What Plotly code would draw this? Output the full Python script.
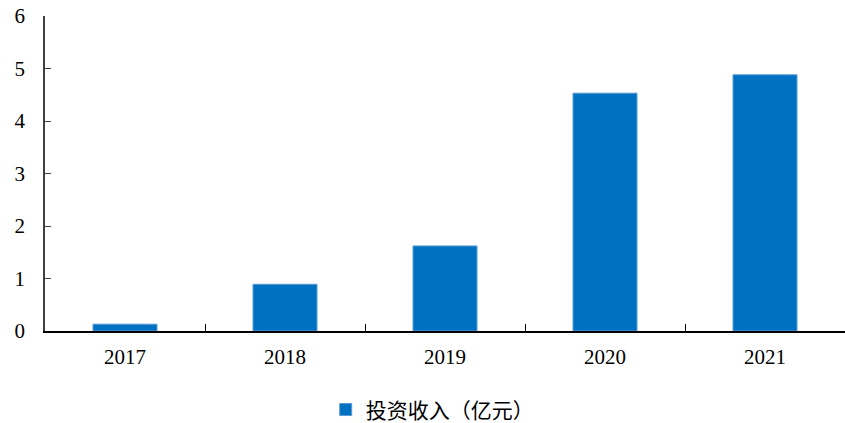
import plotly.graph_objects as go

years = ["2017", "2018", "2019", "2020", "2021"]
income = [0.13, 0.89, 1.62, 4.53, 4.88]
series_name = "投资收入（亿元）"
y_ticks = [0, 1, 2, 3, 4, 5, 6]

fig = go.Figure()
fig.add_trace(go.Bar(
    x=years, y=income, name=series_name,
    marker=dict(color="#0070C0", line=dict(color="#5B9BD5", width=1)),
    showlegend=True,
))

fig.update_layout(
    width=845, height=423,
    margin=dict(l=45, r=0, t=16, b=92),
    plot_bgcolor="white", paper_bgcolor="white",
    bargap=0.6,
    font=dict(family="Liberation Serif", size=21, color="#000000"),
    xaxis=dict(
        type="category", showline=True, linecolor="#000000", linewidth=1.5,
        ticks="inside", tickson="boundaries", ticklen=7, tickcolor="#000000",
        showgrid=False, zeroline=False, ticklabelstandoff=6,
        tickfont=dict(family="Liberation Serif", size=21),
    ),
    yaxis=dict(
        range=[0, 6], tickvals=y_ticks, showline=True, linecolor="#404040", linewidth=1.5,
        ticks="inside", ticklen=6, tickcolor="#404040",
        showgrid=False, zeroline=False, ticklabelstandoff=14,
        tickfont=dict(family="Liberation Serif", size=21),
    ),
    legend=dict(
        orientation="h", x=0.484, xanchor="center",
        yref="container", y=0.031, yanchor="middle",
        font=dict(family="Noto Sans CJK SC", size=21),
    ),
)

fig.write_html("out.html", config={"displayModeBar": False},
               post_script="document.body.style.margin='0';document.body.style.overflow='hidden';")
